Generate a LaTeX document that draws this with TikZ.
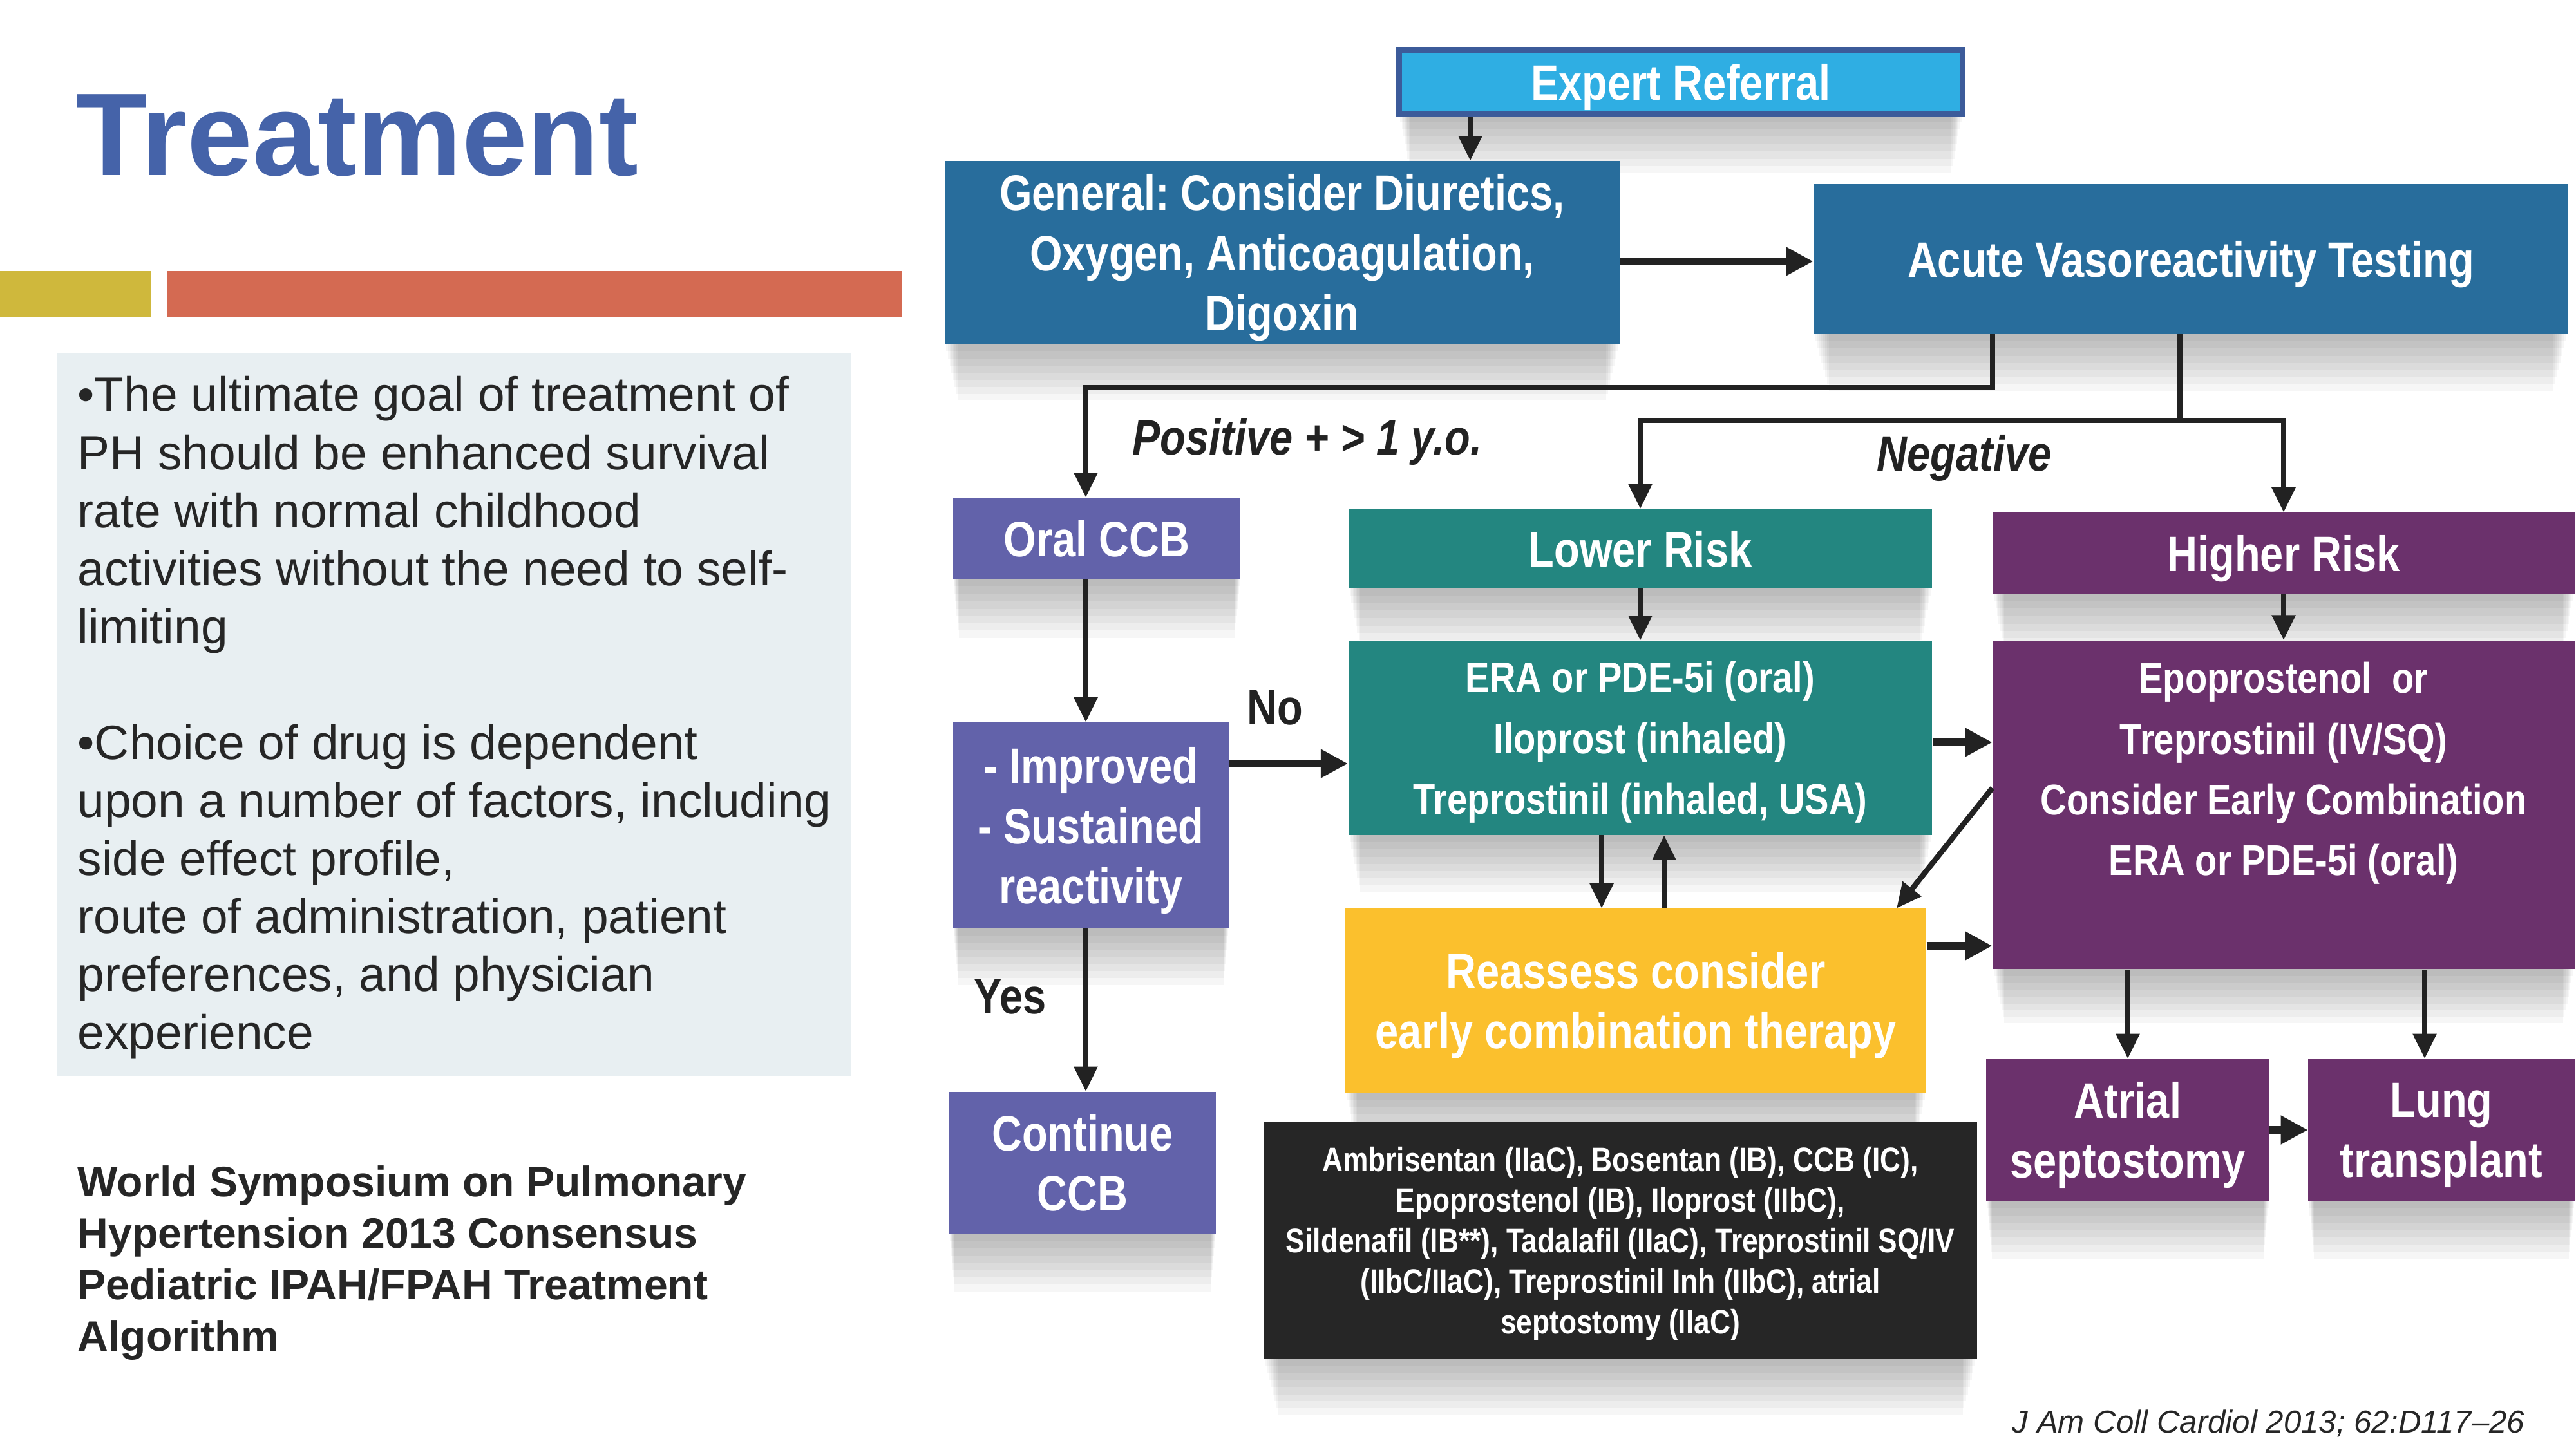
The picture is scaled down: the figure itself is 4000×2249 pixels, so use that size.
\documentclass[tikz,border=0pt]{standalone}
\usepackage{fontspec}
\setmainfont{Liberation Sans}
\newfontfamily\condfont[FakeStretch=0.84]{Liberation Sans}
\usetikzlibrary{arrows.meta,shadows}
\frenchspacing

\definecolor{titleblue}{HTML}{4563A9}
\definecolor{bargold}{HTML}{CFB83C}
\definecolor{barred}{HTML}{D46A52}
\definecolor{panel}{HTML}{E8EFF2}
\definecolor{ink}{HTML}{222222}
\definecolor{expblue}{HTML}{2FAEE3}
\definecolor{expedge}{HTML}{3C5B9A}
\definecolor{steel}{HTML}{286D9C}
\definecolor{ccbblue}{HTML}{6262AA}
\definecolor{riskteal}{HTML}{238680}
\definecolor{amber}{HTML}{FBC02D}
\definecolor{plum}{HTML}{6B316C}
\definecolor{coal}{HTML}{262626}

\tikzset{
  shady/.style={
    general shadow={fill=black, opacity=.035, shadow yshift=-3.5pt, shadow scale=.995},
    general shadow={fill=black, opacity=.035, shadow yshift=-7pt, shadow scale=.99},
    general shadow={fill=black, opacity=.035, shadow yshift=-10.5pt, shadow scale=.985},
    general shadow={fill=black, opacity=.035, shadow yshift=-14pt, shadow scale=.98},
    general shadow={fill=black, opacity=.035, shadow yshift=-17.5pt, shadow scale=.975},
    general shadow={fill=black, opacity=.035, shadow yshift=-21pt, shadow scale=.97},
    general shadow={fill=black, opacity=.035, shadow yshift=-24.5pt, shadow scale=.965},
    general shadow={fill=black, opacity=.035, shadow yshift=-28pt, shadow scale=.96}},
  flowbox/.style={rectangle, inner sep=0pt, text=white, align=center, shady, text depth=0pt,
    font=\condfont\bfseries\fontsize{22}{26.5}\selectfont},
  boxsize/.style 2 args={minimum width=#1, minimum height=#2},
  drugtext/.style={font=\condfont\bfseries\fontsize{19}{26.8}\selectfont},
  lbl/.style={text=ink, inner sep=0pt, font=\condfont\bfseries\fontsize{22}{26}\selectfont},
  arr/.style={draw=ink, line width=2.4pt, -{Triangle[length=11pt,width=10pt]}},
  thickarr/.style={arr, line width=3.4pt, -{Triangle[length=12pt,width=12pt]}},
}

\begin{document}
\begin{tikzpicture}[x=0.01cm, y=-0.01cm]
  \useasboundingbox (0,0) rectangle (4000,2249);
  \fill[white] (0,0) rectangle (4000,2249);

  % title and bars
  \node[anchor=base west, inner sep=0pt, text=titleblue,
    font=\bfseries\fontsize{52}{60}\selectfont] (title) at (117,273) {Treatment};
  \fill[bargold] (0,421) rectangle (235,492);
  \fill[barred] (260,421) rectangle (1400,492);

  % notes
  \fill[panel] (89,548) rectangle (1321,1671);
  \node[anchor=north west, inner sep=0pt, align=left, text=coal,
    font=\fontsize{21.3}{25.6}\selectfont] (notes) at (120,584)
    {\textbullet The ultimate goal of treatment of\\
     PH should be enhanced survival\\
     rate with normal childhood\\
     activities without the need to self-\\
     limiting\\[25.6pt]
     \textbullet Choice of drug is dependent\\
     upon a number of factors, including\\
     side effect profile,\\
     route of administration, patient\\
     preferences, and physician\\
     experience};
  \node[anchor=north west, inner sep=0pt, align=left, text=coal,
    font=\bfseries\fontsize{18.8}{22.7}\selectfont] (source) at (120,1810)
    {World Symposium on Pulmonary\\
     Hypertension 2013 Consensus\\
     Pediatric IPAH/FPAH Treatment\\
     Algorithm};
  \node[anchor=base east, inner sep=0pt, text=coal,
    font=\itshape\fontsize{14}{16}\selectfont] (cite) at (3921,2225)
    {J Am Coll Cardiol 2013; 62:D117--26};

  % flowchart boxes
  \node[flowbox, fill=expblue, draw=expedge, line width=2.5pt, boxsize={8.75cm}{0.99cm}] (expert) at (2610,127) {Expert Referral};
  \node[flowbox, fill=steel, boxsize={10.48cm}{2.83cm}] (general) at (1991,392)
    {General: Consider Diuretics,\\Oxygen, Anticoagulation,\\Digoxin};
  \node[flowbox, fill=steel, boxsize={11.71cm}{2.32cm}] (avt) at (3402,402) {Acute Vasoreactivity Testing};
  \node[flowbox, fill=ccbblue, boxsize={4.46cm}{1.25cm}] (oral) at (1703,836) {Oral CCB};
  \node[flowbox, fill=ccbblue, boxsize={4.28cm}{3.19cm}] (improved) at (1694,1282) {- Improved\\- Sustained\\reactivity};
  \node[flowbox, fill=ccbblue, boxsize={4.14cm}{2.20cm}] (cont) at (1681,1806) {Continue\\CCB};
  \node[flowbox, fill=riskteal, boxsize={9.06cm}{1.22cm}] (lower) at (2547,852) {Lower Risk};
  \node[flowbox, drugtext, fill=riskteal, boxsize={9.06cm}{3.01cm}] (era) at (2547,1146)
    {ERA or PDE-5i (oral)\\Iloprost (inhaled)\\Treprostinil (inhaled, USA)};
  \node[flowbox, fill=amber, boxsize={9.01cm}{2.85cm}] (reassess) at (2540,1554)
    {Reassess consider\\early combination therapy};
  \node[flowbox, fill=plum, boxsize={9.03cm}{1.25cm}] (higher) at (3546,859) {Higher Risk};
  \node[flowbox, fill=plum, boxsize={9.03cm}{5.10cm}] (epo) at (3546,1250) {};
  \node[drugtext, text=white, align=center, inner sep=0pt, text depth=0pt] (epotext) at (3546,1194)
    {Epoprostenol~~or\\Treprostinil (IV/SQ)\\Consider Early Combination\\ERA or PDE-5i (oral)};
  \node[flowbox, fill=plum, boxsize={4.39cm}{2.20cm}] (atrial) at (3304,1755) {Atrial\\septostomy};
  \node[flowbox, fill=plum, boxsize={4.13cm}{2.20cm}] (lung) at (3791,1755) {Lung\\transplant};
  \node[flowbox, fill=coal, boxsize={11.07cm}{3.68cm},
    font=\condfont\bfseries\fontsize{15}{17.9}\selectfont] (classes) at (2516,1926)
    {Ambrisentan (IIaC), Bosentan (IB), CCB (IC),\\
     Epoprostenol (IB), Iloprost (IIbC),\\
     Sildenafil (IB**), Tadalafil (IIaC), Treprostinil SQ/IV\\
     (IIbC/IIaC), Treprostinil Inh (IIbC), atrial\\
     septostomy (IIaC)};

  % branch labels
  \node[lbl, font=\condfont\bfseries\itshape\fontsize{22}{26}\selectfont] (pos) at (2030,686) {Positive + > 1 y.o.};
  \node[lbl, font=\condfont\bfseries\itshape\fontsize{22}{26}\selectfont] (neg) at (3050,711) {Negative};
  \node[lbl] (no) at (1980,1099) {No};
  \node[lbl] (yes) at (1569,1548) {Yes};

  % connectors
  \draw[arr] (2283,0 |- expert.south) -- (2283,0 |- general.north);
  \draw[thickarr] (general.east |- 0,406) -- (avt.west |- 0,406);
  \draw[arr] (3094,0 |- avt.south) |- (1686,602) -- (1686,0 |- oral.north);
  \draw[arr] (3385,0 |- avt.south) -- (3385,653) -| (lower.north);
  \draw[arr] (3385,653) -| (higher.north);
  \draw[arr] (1686,0 |- oral.south) -- (1686,0 |- improved.north);
  \draw[thickarr] (improved.east |- 0,1186) -- (era.west |- 0,1186);
  \draw[arr] (1686,0 |- improved.south) -- (1686,0 |- cont.north);
  \draw[arr] (lower.south) -- (era.north);
  \draw[arr] (2487,0 |- era.south) -- (2487,0 |- reassess.north);
  \draw[arr] (2584,0 |- reassess.north) -- (2584,0 |- era.south);
  \draw[thickarr] (era.east |- 0,1153) -- (epo.west |- 0,1153);
  \draw[thickarr] (reassess.east |- 0,1469) -- (epo.west |- 0,1469);
  \draw[arr] (epo.west |- 0,1224) -- (2945,0 |- reassess.north);
  \draw[arr] (higher.south) -- (epo.north);
  \draw[arr] (3304,0 |- epo.south) -- (atrial.north);
  \draw[arr] (3765,0 |- epo.south) -- (3765,0 |- lung.north);
  \draw[thickarr] (atrial.east) -- (lung.west);
\end{tikzpicture}
\end{document}
